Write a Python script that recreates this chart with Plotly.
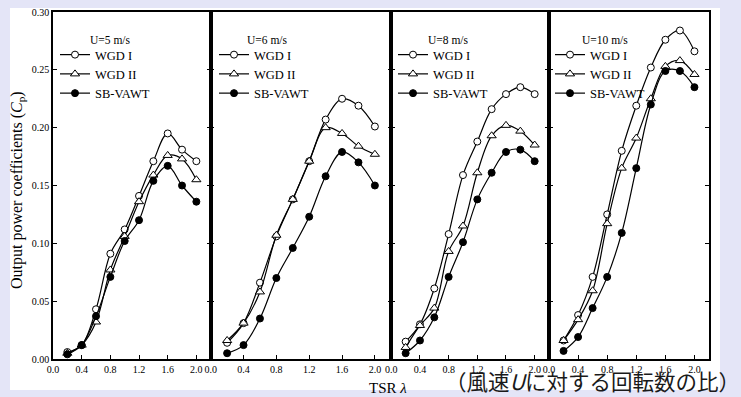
import plotly.graph_objects as go

# ---------------- data ----------------
tsr = [0.2, 0.4, 0.6, 0.8, 1.0, 1.2, 1.4, 1.6, 1.8, 2.0]
x_ticks = [0.0, 0.4, 0.8, 1.2, 1.6, 2.0]
y_ticks = [0.00, 0.05, 0.10, 0.15, 0.20, 0.25, 0.30]
wind_speeds = ["U=5 m/s", "U=6 m/s", "U=8 m/s", "U=10 m/s"]
series_names = ["WGD I", "WGD II", "SB-VAWT"]

cp_wgd1_u5 = [0.006, 0.012, 0.043, 0.091, 0.112, 0.141, 0.171, 0.195, 0.181, 0.171]
cp_wgd2_u5 = [0.005, 0.012, 0.032, 0.077, 0.106, 0.136, 0.159, 0.176, 0.173, 0.155]
cp_sb_u5 = [0.004, 0.012, 0.037, 0.071, 0.102, 0.120, 0.154, 0.167, 0.150, 0.136]

cp_wgd1_u6 = [0.014, 0.031, 0.066, 0.106, 0.138, 0.171, 0.207, 0.225, 0.219, 0.201]
cp_wgd2_u6 = [0.016, 0.031, 0.058, 0.107, 0.138, 0.171, 0.200, 0.195, 0.184, 0.177]
cp_sb_u6 = [0.005, 0.012, 0.035, 0.070, 0.096, 0.123, 0.158, 0.179, 0.170, 0.150]

cp_wgd1_u8 = [0.015, 0.030, 0.061, 0.108, 0.159, 0.188, 0.216, 0.229, 0.235, 0.229]
cp_wgd2_u8 = [0.010, 0.029, 0.044, 0.093, 0.115, 0.161, 0.193, 0.202, 0.197, 0.185]
cp_sb_u8 = [0.005, 0.016, 0.036, 0.071, 0.101, 0.138, 0.161, 0.179, 0.181, 0.171]

cp_wgd1_u10 = [0.016, 0.038, 0.071, 0.125, 0.180, 0.219, 0.252, 0.276, 0.284, 0.266]
cp_wgd2_u10 = [0.016, 0.034, 0.059, 0.117, 0.165, 0.191, 0.225, 0.253, 0.258, 0.246]
cp_sb_u10 = [0.007, 0.019, 0.044, 0.071, 0.109, 0.165, 0.220, 0.249, 0.249, 0.235]

panels = [
    [cp_wgd1_u5, cp_wgd2_u5, cp_sb_u5],
    [cp_wgd1_u6, cp_wgd2_u6, cp_sb_u6],
    [cp_wgd1_u8, cp_wgd2_u8, cp_sb_u8],
    [cp_wgd1_u10, cp_wgd2_u10, cp_sb_u10],
]

# ---------------- geometry (pixels) ----------------
W, H = 741, 397
L, R, T, B = 53, 32, 12, 38
PW, PH = W - L - R, H - T - B
borders = [53, 210.7, 391.3, 549, 709]
PAPER = "#e4e5f7"


def px(xp):
    return (xp - L) / PW


def py(yp):
    return (H - B - yp) / PH


domains = [[px(borders[i]), px(borders[i + 1])] for i in range(4)]
domains[0][0] = 0.0
domains[-1][1] = 1.0

marker_styles = [
    dict(symbol="circle", size=7, color="white", line=dict(color="black", width=1)),
    dict(symbol="triangle-up", size=8, color="white", line=dict(color="black", width=1)),
    dict(symbol="circle", size=7, color="black", line=dict(color="black", width=1)),
]

fig = go.Figure()
legend_ids = ["legend", "legend2", "legend3", "legend4"]
for i, series in enumerate(panels):
    sfx = "" if i == 0 else str(i + 1)
    for j, vals in enumerate(series):
        fig.add_trace(go.Scatter(
            x=tsr, y=vals, name=series_names[j],
            mode="lines+markers",
            line=dict(color="black", width=1.2, shape="spline", smoothing=1.0),
            marker=marker_styles[j],
            xaxis="x" + sfx, yaxis="y" + sfx,
            legend=legend_ids[i], showlegend=True,
        ))

font_serif = "Liberation Serif, Times New Roman, serif"
layout = dict(
    width=W, height=H,
    margin=dict(l=L, r=R, t=T, b=B),
    paper_bgcolor=PAPER,
    plot_bgcolor="white",
    font=dict(family=font_serif, size=10, color="black"),
)

for i in range(4):
    sfx = "" if i == 0 else str(i + 1)
    layout["xaxis" + sfx] = dict(
        domain=domains[i], range=[0, 2.2], anchor="y" + sfx,
        tickvals=x_ticks, tickformat=".1f", ticks="inside", ticklen=4,
        tickwidth=1.2, tickcolor="black",
        showline=True, linecolor="black", linewidth=1.5, mirror=True,
        showgrid=False, zeroline=False, automargin=False,
        tickfont=dict(family=font_serif, size=10),
    )
    layout["yaxis" + sfx] = dict(
        domain=[0, 1], range=[0, 0.30], anchor="x" + sfx,
        tickvals=y_ticks, tickformat=".2f", ticks="inside", ticklen=4,
        tickwidth=1.2, tickcolor="black",
        showline=True, linecolor="black", linewidth=1.5, mirror="ticks",
        showgrid=False, zeroline=False, showticklabels=(i == 0), automargin=False,
        tickfont=dict(family=font_serif, size=10),
    )

legend_x_px = [55, 214, 393, 550]
for i, lid in enumerate(legend_ids):
    layout[lid] = dict(
        x=px(legend_x_px[i]), y=py(40), xanchor="left", yanchor="top",
        bgcolor="rgba(0,0,0,0)", borderwidth=0,
        font=dict(family=font_serif, size=12.5, color="black"),
        tracegroupgap=0, itemwidth=30,
    )

title_x_px = [110, 267.5, 448.5, 604.5]
annotations = []
for i, t in enumerate(wind_speeds):
    annotations.append(dict(
        x=px(title_x_px[i]), y=py(40), xref="paper", yref="paper",
        text=t, showarrow=False, xanchor="center", yanchor="middle",
        font=dict(family=font_serif, size=11.5, color="black"),
    ))

annotations.append(dict(
    x=px(17), y=py(190), xref="paper", yref="paper",
    text="Output power coefficients (<i>C</i><sub>p</sub>)",
    textangle=-90, showarrow=False, xanchor="center", yanchor="middle",
    font=dict(family=font_serif, size=16, color="black"),
))
annotations.append(dict(
    x=px(388), y=py(388), xref="paper", yref="paper",
    text="TSR <i>λ</i>", showarrow=False, xanchor="center", yanchor="middle",
    font=dict(family=font_serif, size=15, color="black"),
))
annotations.append(dict(
    x=px(592), y=py(397), xref="paper", yref="paper",
    text="（風速<i>U</i>に対する回転数の比）", showarrow=False,
    xanchor="center", yanchor="bottom", borderpad=0,
    font=dict(family="Noto Sans CJK JP", size=21.5, color="#1a1a1a"),
))
layout["annotations"] = annotations

layout["shapes"] = [dict(
    type="rect", xref="paper", yref="paper", layer="below",
    x0=px(10), x1=px(720), y0=py(390), y1=py(8),
    fillcolor="white", line=dict(width=0),
)]

fig.update_layout(**layout)
fig.write_html(
    "out.html",
    config={"displayModeBar": False},
    post_script=(
        "document.documentElement.style.margin='0';"
        "document.body.style.margin='0';"
        "document.body.style.padding='0';"
        "document.body.style.overflow='hidden';"
        "document.body.style.background='" + PAPER + "';"
    ),
)
